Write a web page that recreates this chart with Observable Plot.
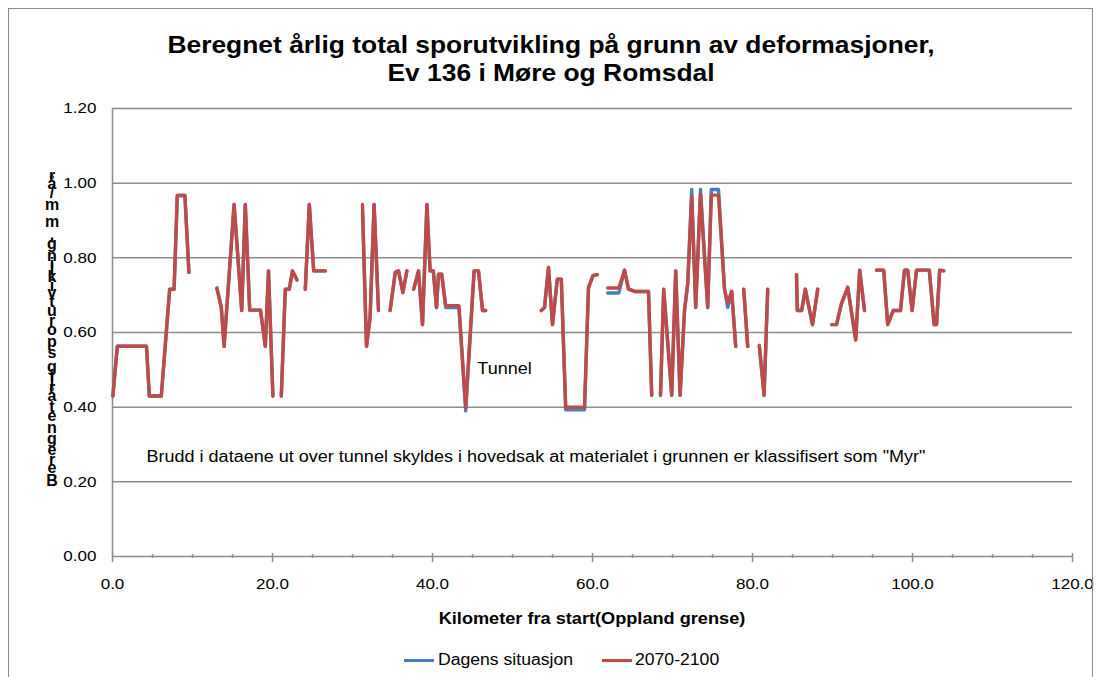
<!DOCTYPE html>
<html><head><meta charset="utf-8">
<script src="https://cdn.jsdelivr.net/npm/d3@7"></script>
<script src="https://cdn.jsdelivr.net/npm/@observablehq/plot@0.6"></script>
<style>
body{margin:0;background:#fff;}
#wrap{position:relative;width:1102px;height:677px;overflow:hidden;font-family:"Liberation Sans",Arial,sans-serif;color:#000;}
#wrap svg{position:absolute;left:0;top:0;}
#frame{position:absolute;left:8px;top:8px;width:1085px;height:700px;border:1px solid #8c8c8c;box-sizing:border-box;}
#title{position:absolute;left:0;top:31px;width:1102px;text-align:center;font-weight:bold;font-size:24px;line-height:28px;transform:scaleX(1.1);transform-origin:551px 0;}
#xlab{position:absolute;left:112px;width:960px;top:608px;text-align:center;font-weight:bold;font-size:16.5px;line-height:20px;transform:scaleX(1.1);transform-origin:480px 0;}
#ylab{position:absolute;left:40px;top:172px;width:24px;font-weight:bold;font-size:16px;}
#ylab div{text-align:center;white-space:pre;overflow:visible;}
.lg{position:absolute;top:650px;font-size:16px;line-height:20px;transform:scaleX(1.1);transform-origin:0 0;white-space:nowrap;}
.sw{position:absolute;top:659px;width:30px;height:3px;}
</style>
</head><body>
<div id="wrap">
  <div id="frame"></div>
</div>
<script>
// ---- data ----
const titleLines = ["Beregnet årlig total sporutvikling på grunn av deformasjoner,", "Ev 136 i Møre og Romsdal"];
const xLabel = "Kilometer fra start(Oppland grense)";
const yLabel = "Beregnet årlig sporutvikling, mm/år";
const seriesNames = ["Dagens situasjon", "2070-2100"];
const seriesColors = ["#4A7EBB", "#BE4B48"];
const xTicks = [0, 20, 40, 60, 80, 100, 120];
const xMinor = [5, 10, 15, 25, 30, 35, 45, 50, 55, 65, 70, 75, 85, 90, 95, 105, 110, 115];
const yTicks = [0, 0.2, 0.4, 0.6, 0.8, 1.0, 1.2];
const notes = [
  {x: 45.6, y: 0.504, text: "Tunnel"},
  {x: 4.25, y: 0.268, text: "Brudd i dataene ut over tunnel skyldes i hovedsak at materialet i grunnen er klassifisert som \"Myr\""}
];

const km = [
  0.05, 0.6, 4.25, 4.6, 6.1, 7.15, 7.7, 8.1, 9.05, 9.55,
  11,
  13.05, 13.6, 13.95, 15.2, 16.15, 16.6, 17.15, 18.5, 19.1, 19.5, 20.05,
  20.5,
  21.1, 21.6, 22.1, 22.5, 23.05,
  23.6,
  24.1, 24.6, 25.15, 26.6,
  29,
  31.25, 31.75, 32.2, 32.7, 33.25,
  34,
  34.7, 35.35, 35.75, 36.3, 36.8,
  37.2,
  37.65, 38.25, 38.75, 39.3, 39.7, 40.1, 40.5, 40.75, 41.15, 41.65, 43.3, 44.15, 45.2, 45.75, 46.25, 46.65,
  50,
  53.6, 54.0, 54.5, 55.0, 55.6, 56.1, 56.65, 59.0, 59.5, 60.05, 60.6,
  61.2,
  61.9, 63.3, 64.0, 64.5, 65.3, 67.0, 67.4,
  68,
  68.5, 68.9, 69.9, 70.4, 70.95, 71.5, 71.9, 72.4, 72.9, 73.5, 74.4, 74.85, 75.75, 76.5, 76.9, 77.4, 77.9,
  78.4,
  78.9, 79.4,
  80,
  80.85, 81.45, 81.9,
  84,
  85.5, 85.6, 86.15, 86.6, 87.5, 88.15,
  89,
  89.9, 90.5, 91.1, 91.9, 92.9, 93.4, 94.0,
  94.7,
  95.5, 96.4, 96.9, 97.6, 98.5, 99.0, 99.4, 99.95, 100.5, 102.1, 102.7, 103.0, 103.4, 103.9
];

const dagens = [
  0.43, 0.563, 0.563, 0.43, 0.43, 0.716, 0.716, 0.967, 0.967, 0.761,
  null,
  0.719, 0.667, 0.563, 0.943, 0.659, 0.943, 0.66, 0.66, 0.563, 0.765, 0.43,
  null,
  0.43, 0.716, 0.716, 0.765, 0.741,
  null,
  0.716, 0.943, 0.765, 0.765,
  null,
  0.92, 0.563, 0.641, 0.943, 0.659,
  null,
  0.659, 0.761, 0.765, 0.707, 0.765,
  null,
  0.716, 0.765, 0.621, 0.943, 0.765, 0.765, 0.667, 0.756, 0.756, 0.667, 0.667, 0.39, 0.765, 0.765, 0.659, 0.659,
  null,
  0.659, 0.667, 0.774, 0.621, 0.743, 0.743, 0.393, 0.393, 0.72, 0.752, 0.755,
  null,
  0.706, 0.706, 0.767, 0.716, 0.71, 0.71, 0.432,
  null,
  0.432, 0.716, 0.432, 0.765, 0.432, 0.659, 0.73, 0.983, 0.667, 0.983, 0.667, 0.983, 0.983, 0.716, 0.667, 0.71, 0.563,
  null,
  0.716, 0.563,
  null,
  0.565, 0.432, 0.716,
  null,
  0.755, 0.659, 0.659, 0.716, 0.621, 0.716,
  null,
  0.621, 0.621, 0.676, 0.721, 0.58, 0.767, 0.659,
  null,
  0.767, 0.767, 0.621, 0.659, 0.659, 0.767, 0.767, 0.659, 0.767, 0.767, 0.621, 0.621, 0.767, 0.765
];

const future = [
  0.43, 0.563, 0.563, 0.43, 0.43, 0.716, 0.716, 0.967, 0.967, 0.761,
  null,
  0.719, 0.667, 0.563, 0.943, 0.659, 0.943, 0.66, 0.66, 0.563, 0.765, 0.43,
  null,
  0.43, 0.716, 0.716, 0.765, 0.741,
  null,
  0.716, 0.943, 0.765, 0.765,
  null,
  0.943, 0.563, 0.641, 0.943, 0.659,
  null,
  0.659, 0.761, 0.765, 0.707, 0.765,
  null,
  0.716, 0.765, 0.621, 0.943, 0.765, 0.765, 0.667, 0.756, 0.756, 0.672, 0.672, 0.40, 0.765, 0.765, 0.659, 0.659,
  null,
  0.659, 0.667, 0.774, 0.621, 0.743, 0.743, 0.40, 0.40, 0.72, 0.752, 0.755,
  null,
  0.719, 0.719, 0.767, 0.716, 0.71, 0.71, 0.432,
  null,
  0.432, 0.716, 0.432, 0.765, 0.432, 0.659, 0.73, 0.965, 0.667, 0.97, 0.667, 0.968, 0.968, 0.716, 0.68, 0.71, 0.563,
  null,
  0.716, 0.563,
  null,
  0.565, 0.432, 0.716,
  null,
  0.755, 0.659, 0.659, 0.716, 0.621, 0.716,
  null,
  0.621, 0.621, 0.676, 0.721, 0.58, 0.767, 0.659,
  null,
  0.767, 0.767, 0.621, 0.659, 0.659, 0.767, 0.767, 0.659, 0.767, 0.767, 0.621, 0.621, 0.767, 0.765
];

// ---- chart ----
const rows = km.map((k, i) => ({km: k, dagens: dagens[i], future: future[i]}));
const grey = "#8c8c8c";
const SX = 1.1;

const chart = Plot.plot({
  width: 1102, height: 677,
  marginLeft: 112, marginRight: 30, marginTop: 108, marginBottom: 121,
  style: {background: "transparent", fontFamily: "'Liberation Sans', Arial, sans-serif", fontSize: "15.5px", color: "#000", overflow: "visible"},
  x: {domain: [0, 120]},
  y: {domain: [0, 1.2]},
  marks: [
    Plot.gridY(yTicks, {stroke: grey, strokeOpacity: 1, strokeWidth: 1.5}),
    Plot.ruleX([0], {stroke: grey, strokeWidth: 1.5}),
    Plot.axisY(yTicks, {tickSize: 0, tickPadding: 16, tickFormat: d => d.toFixed(2), label: null, fontSize: 15.5}),
    Plot.axisX(xMinor, {tickSize: 4, dy: -2, tickFormat: () => "", label: null, stroke: grey, strokeWidth: 1.5}),
    Plot.axisX(xTicks, {tickSize: 9, dy: -3, tickPadding: 15, tickFormat: d => d.toFixed(1), label: null, stroke: grey, strokeWidth: 1.5, fontSize: 15.5}),
    Plot.text(notes, {x: "x", y: "y", text: "text", textAnchor: "start", fontSize: 16.4, fill: "#000"}),
    Plot.line(rows, {x: "km", y: "dagens", stroke: seriesColors[0], strokeWidth: 3.4}),
    Plot.line(rows, {x: "km", y: "future", stroke: seriesColors[1], strokeWidth: 3.4})
  ]
});

// horizontal stretch of the text, as in the reference
chart.querySelectorAll("text").forEach(t => {
  const tr = t.getAttribute("transform");
  if (tr) t.setAttribute("transform", tr + ` scale(${SX},1)`);
  else {
    const x = +t.getAttribute("x") || 0, y = +t.getAttribute("y") || 0;
    t.removeAttribute("x"); t.removeAttribute("y");
    t.setAttribute("transform", `translate(${x},${y}) scale(${SX},1)`);
  }
});

const wrap = document.getElementById("wrap");
wrap.insertBefore(chart, wrap.firstChild);

// title
const title = document.createElement("div");
title.id = "title";
title.innerHTML = titleLines.map(s => s.replace(/&/g, "&amp;")).join("<br>");
wrap.appendChild(title);

// x label
const xl = document.createElement("div");
xl.id = "xlab"; xl.textContent = xLabel;
wrap.appendChild(xl);

// y label: upright glyphs stacked, as in the reference
const yl = document.createElement("div");
yl.id = "ylab";
const cv = document.createElement("canvas").getContext("2d");
cv.font = "bold 18px 'Liberation Sans'";
const chars = Array.from(yLabel).reverse();
const adv = chars.map(c => cv.measureText(c).width * (c === " " ? 0.5 : 1));
const tot = adv.reduce((a, b) => a + b, 0);
chars.forEach((c, i) => {
  const d = document.createElement("div");
  const h = adv[i] * 316 / tot;
  d.style.height = h + "px";
  d.style.lineHeight = h + "px";
  d.textContent = c;
  yl.appendChild(d);
});
wrap.appendChild(yl);

// legend
const lgPos = [[404, 438], [602, 635]];
seriesNames.forEach((n, i) => {
  const sw = document.createElement("div");
  sw.className = "sw"; sw.style.left = lgPos[i][0] + "px"; sw.style.background = seriesColors[i];
  wrap.appendChild(sw);
  const t = document.createElement("div");
  t.className = "lg"; t.style.left = lgPos[i][1] + "px"; t.textContent = n;
  wrap.appendChild(t);
});
</script>
</body></html>
